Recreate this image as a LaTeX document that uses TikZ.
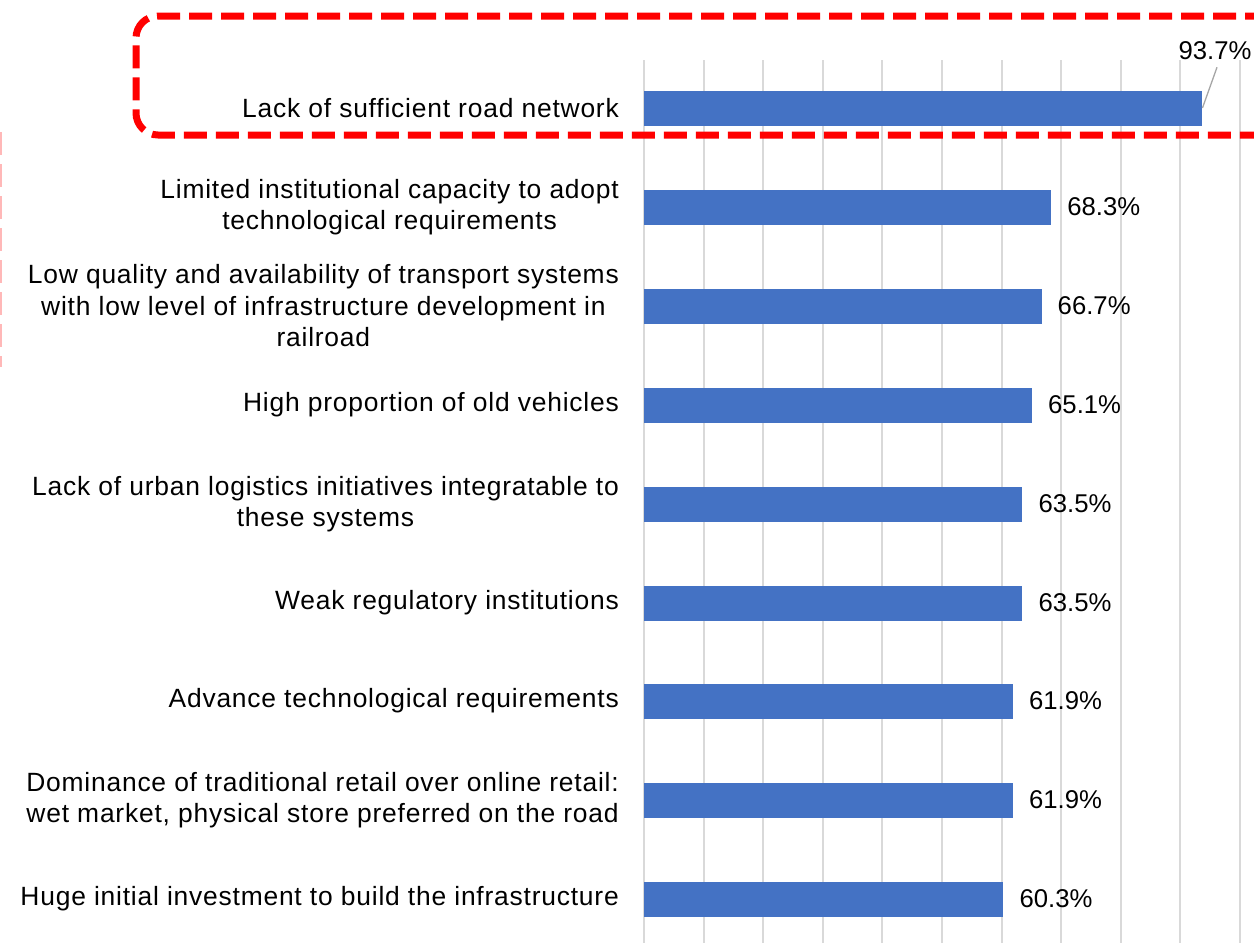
\documentclass[tikz,border=0pt]{standalone}
\usepackage{fontspec}
\setmainfont{Liberation Sans}
\newfontfamily\catfont[LetterSpace=3.0]{Liberation Sans}
\usetikzlibrary{calc}
\definecolor{barblue}{HTML}{4472C4}
\definecolor{gridgray}{HTML}{D9D9D9}
\definecolor{leadgray}{HTML}{A6A6A6}
\begin{document}
\begin{tikzpicture}[x=1pt,y=-1pt,
  bar/.style={fill=barblue, draw=none, minimum height=35pt, inner sep=0pt, outer sep=0pt, anchor=west},
  cat/.style={anchor=east, align=center, font=\catfont\fontsize{26.4}{31.5}\selectfont, inner sep=0pt},
  val/.style={anchor=west, font=\fontsize{25.7}{31}\selectfont, inner sep=0pt},
  gridline/.style={draw=gridgray, line width=2pt},
  hl/.style={draw=red, line width=7pt, dash pattern=on 23pt off 9pt, rounded corners=22pt},
  faint/.style={draw=red!28, line width=2pt, dash pattern=on 23pt off 9pt},
  leader/.style={draw=leadgray, line width=1.3pt}]
\useasboundingbox (0,0) rectangle (1254,943);
% gridlines
\foreach \i in {0,...,10}
  \draw[gridline] (644+59.6*\i,60) -- (644+59.6*\i,943);
% bars, categories, values
\foreach \n/\y/\v/\t in {
  1/108/93.7/{Lack of sufficient road network},
  2/207/68.3/{Limited institutional capacity to adopt\\technological requirements},
  3/306/66.7/{Low quality and availability of transport systems\\with low level of infrastructure development in\\railroad},
  4/405/65.1/{High proportion of old vehicles},
  5/504/63.5/{Lack of urban logistics initiatives integratable to\\these systems},
  6/603/63.5/{Weak regulatory institutions},
  7/701/61.9/{Advance technological requirements},
  8/800/61.9/{Dominance of traditional retail over online retail:\\wet market, physical store preferred on the road},
  9/899/60.3/{Huge initial investment to build the infrastructure}}
{
  \node[bar, minimum width={5.96*\v pt}] (b\n) at (644,\y) {};
  \node[cat] (c\n) at (619,\y) {\t};
}
\foreach \n/\y/\v in {2/207/68.3,3/306/66.7,4/405/65.1,5/504/63.5,6/603/63.5,7/701/61.9,8/800/61.9,9/899/60.3}
  \node[val] (v\n) at ($(b\n.east)+(16,0)$) {\v\%};
\node[val, anchor=center] (v1) at (1215,51) {93.7\%};
\draw[leader] ($(v1.south)+(2,7)$) -- (b1.east);
% highlight box
\coordinate (h1) at (1300,16);
\coordinate (h2) at (136,16);
\coordinate (h3) at (136,135);
\coordinate (h4) at (1300,135);
\draw[hl] (h1) -- (h2) -- (h3) -- (h4);
\coordinate (f1) at (0.5,132);
\coordinate (f2) at (0.5,367);
\draw[faint] (f1) -- (f2);
\end{tikzpicture}
\end{document}
